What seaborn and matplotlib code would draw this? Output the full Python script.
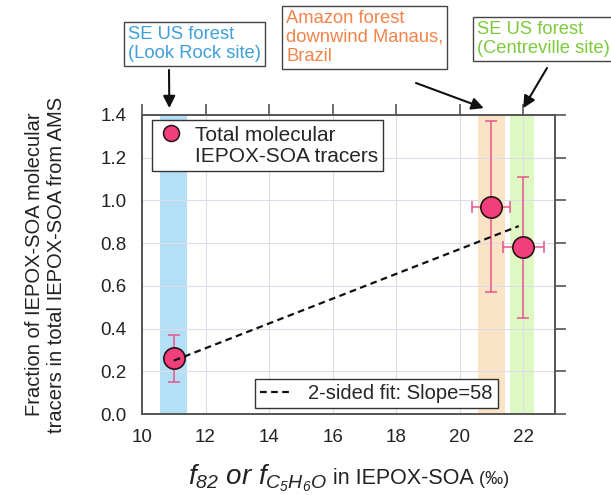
import numpy as np
import pandas as pd
import matplotlib
matplotlib.use("Agg")
import matplotlib.pyplot as plt
from matplotlib.lines import Line2D
from matplotlib.offsetbox import TextArea, HPacker, AnchoredOffsetbox
import seaborn as sns

# ---- data -------------------------------------------------------------
sites = ["SE US forest (Look Rock site)",
         "Amazon forest downwind Manaus, Brazil",
         "SE US forest (Centreville site)"]
f82 = [11.0, 21.0, 22.0]                 # f82 or fC5H6O in IEPOX-SOA (per mil)
f82_err = [0.0, 0.6, 0.65]
tracer_frac = [0.26, 0.97, 0.78]         # tracer fraction of AMS IEPOX-SOA
tracer_frac_err = [0.11, 0.40, 0.33]

# shaded f82 ranges per site
band_lo = [10.58, 20.58, 21.58]
band_hi = [11.42, 21.42, 22.34]
band_colors = ["#b3e0f6", "#fbe3c6", "#def8c4"]
site_text_colors = ["#3f9fd8", "#f2844a", "#7ccb3c"]

# two-sided regression (slope per unit fraction; x is in per mil)
fit_slope = 58
fit_intercept = -0.388
fit_x = [11.0, 21.86]

x_ticks = [10, 12, 14, 16, 18, 20, 22]
y_ticks = [0.0, 0.2, 0.4, 0.6, 0.8, 1.0, 1.2, 1.4]

df = pd.DataFrame({"site": sites, "f82": f82, "frac": tracer_frac})

# ---- style ------------------------------------------------------------
sns.set_theme(style="white")
plt.rcParams["font.family"] = ["Liberation Sans", "DejaVu Sans"]
plt.rcParams["mathtext.fontset"] = "custom"
plt.rcParams["mathtext.rm"] = "Liberation Sans:italic"
plt.rcParams["mathtext.it"] = "Liberation Sans:italic"
plt.rcParams["mathtext.bf"] = "Liberation Sans:bold"
plt.rcParams["mathtext.default"] = "it"

fig = plt.figure(figsize=(6.11, 4.95), dpi=100)
ax = fig.add_axes([0.2324, 0.1636, 0.6759, 0.6041])

ax.set_xlim(10, 23)
ax.set_ylim(0, 1.4)

for lo, hi, c in zip(band_lo, band_hi, band_colors):
    ax.axvspan(lo, hi, ymin=0.004, ymax=1, color=c, lw=0, zorder=0.5)

ax.set_xticks(x_ticks)
ax.set_yticks(y_ticks)
ax.set_yticklabels([f"{v:.1f}" for v in y_ticks])
ax.grid(True, color="#dcdcea", lw=0.8, zorder=0)
ax.set_axisbelow(True)

for s in ax.spines.values():
    s.set_color("#555555")
    s.set_linewidth(1.4)
    s.set_visible(True)
ax.tick_params(axis="both", which="major", direction="out", length=8,
               width=1.2, color="#555555", labelsize=13.5, labelcolor="#222222",
               top=True, right=True, labeltop=False, labelright=False, pad=3)

# error bars
ax.errorbar(f82, tracer_frac, xerr=f82_err, yerr=tracer_frac_err, fmt="none",
            ecolor="#e85589", elinewidth=1.1, capsize=4, capthick=1.1, zorder=2)

# points
sns.scatterplot(data=df, x="f82", y="frac", ax=ax, s=235, color="#f03f7b",
                edgecolor="#2a1015", linewidth=1.2, zorder=3, legend=False)

# fit line
fx = np.array(fit_x)
fy = fit_intercept + fit_slope * fx / 1000.0
ax.plot(fx, fy, color="#111111", lw=1.6, ls=(0, (3, 2)), zorder=4)

# x label: large italic symbols followed by plain text
ax.set_xlabel("")
xl_parts = HPacker(children=[
    TextArea(r"$f_{82}\ or\ f_{C_5H_6O}$",
             textprops=dict(fontsize=20, color="#222222")),
    TextArea(" in IEPOX-SOA",
             textprops=dict(fontsize=15.5, color="#222222",
                            family=["Liberation Sans Narrow", "Liberation Sans"])),
    TextArea(" (‰)",
             textprops=dict(fontsize=13, color="#222222",
                            family=["Liberation Sans Narrow", "Liberation Sans"])),
], align="baseline", pad=0, sep=0)
ax.add_artist(AnchoredOffsetbox(loc="upper center", child=xl_parts, pad=0,
                                borderpad=0, frameon=False,
                                bbox_to_anchor=(0.5, -0.16),
                                bbox_transform=ax.transAxes))

ax.set_ylabel("Fraction of IEPOX-SOA molecular\ntracers in total IEPOX-SOA from AMS",
              fontsize=14.5, color="#222222", labelpad=25, linespacing=1.2)

# legends
pt_handle = Line2D([], [], ls="none", marker="o", markersize=11.5,
                   markerfacecolor="#f03f7b", markeredgecolor="#2a1015",
                   markeredgewidth=1.1)
blank = Line2D([], [], ls="none")
leg1 = ax.legend([pt_handle, blank], ["Total molecular", "IEPOX-SOA tracers"],
                 loc="upper left", bbox_to_anchor=(0.024, 0.982),
                 fontsize=15, frameon=True, fancybox=False, framealpha=1,
                 borderpad=0.25, handletextpad=0.5, handlelength=1.3,
                 labelspacing=0.12, borderaxespad=0)
leg1.get_frame().set_edgecolor("#333333")
leg1.get_frame().set_linewidth(1.0)
ax.add_artist(leg1)

fit_handle = Line2D([], [], color="#111111", lw=1.6, ls=(0, (3, 2)))
leg2 = ax.legend([fit_handle], ["2-sided fit: Slope=58"], loc="lower right",
                 bbox_to_anchor=(0.862, 0.02), fontsize=14.5, frameon=True,
                 fancybox=False, framealpha=1, borderpad=0.25, handlelength=1.6,
                 handletextpad=0.8, borderaxespad=0)
leg2.get_frame().set_edgecolor("#333333")
leg2.get_frame().set_linewidth(1.0)

# site labels with arrows
labels = ["SE US forest\n(Look Rock site)",
          "Amazon forest\ndownwind Manaus,\nBrazil",
          "SE US forest\n(Centreville site)"]
text_pos = [(128, 469), (286, 485), (477, 474)]       # figure pixels, top-left
arrow_tail = [(169, 425), (416, 412), (547, 427)]     # figure pixels
arrow_tip_x = [10.86, 20.76, 22.0]
for lab, (tx, ty), col in zip(labels, text_pos, site_text_colors):
    fig.text(tx / 611, ty / 495, lab, ha="left", va="top", fontsize=13.2,
             color=col, linespacing=1.15,
             bbox=dict(boxstyle="square,pad=0.22", fc="white", ec="#444444", lw=1.0))
for (ax_, ay_), tipx in zip(arrow_tail, arrow_tip_x):
    ax.annotate("", xy=(tipx, 1.023), xycoords=ax.get_xaxis_transform(),
                xytext=(ax_, ay_), textcoords="figure pixels",
                arrowprops=dict(arrowstyle="-|>,head_length=0.6,head_width=0.3",
                                color="#111111", lw=1.5, shrinkA=0, shrinkB=0),
                annotation_clip=False)

fig.savefig("out.png", dpi=100)
